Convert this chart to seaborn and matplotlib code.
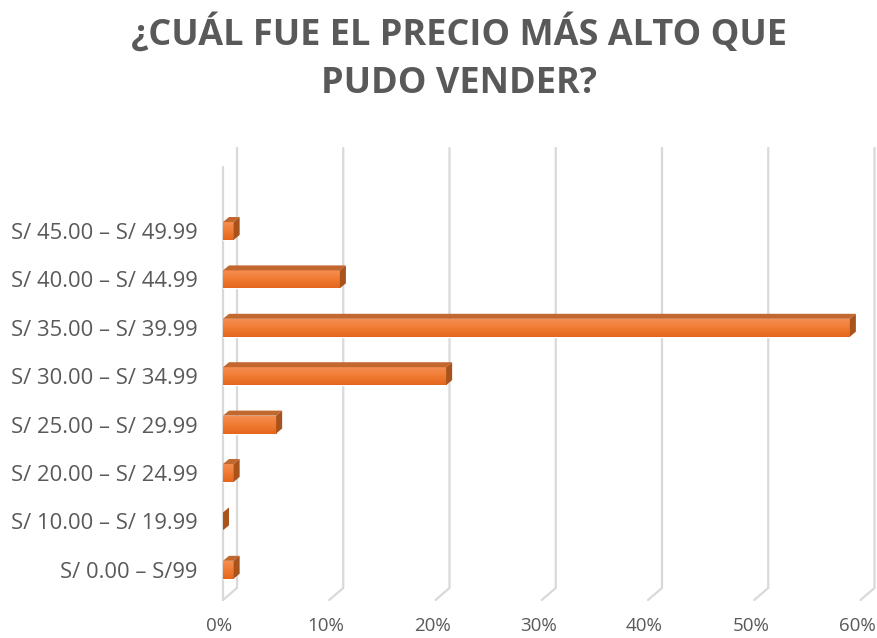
import numpy as np
import pandas as pd
import matplotlib
matplotlib.use('Agg')
import matplotlib.pyplot as plt
import seaborn as sns
from matplotlib.patches import Polygon
from matplotlib.colors import LinearSegmentedColormap
from matplotlib.transforms import ScaledTranslation

# datos
rangos = ['S/ 45.00 – S/ 49.99', 'S/ 40.00 – S/ 44.99', 'S/ 35.00 – S/ 39.99',
          'S/ 30.00 – S/ 34.99', 'S/ 25.00 – S/ 29.99', 'S/ 20.00 – S/ 24.99',
          'S/ 10.00 – S/ 19.99', 'S/ 0.00 – S/99']
porcentajes = [1, 11, 59, 21, 5, 1, 0, 1]
ticks = [0, 10, 20, 30, 40, 50, 60]
tick_labels = ['0%', '10%', '20%', '30%', '40%', '50%', '60%']

sns.set_style('white')
plt.rcParams['font.family'] = ['Open Sans', 'DejaVu Sans']
gris = '#595959'

fig = plt.figure(figsize=(8.77, 6.38), dpi=100)
ax = fig.add_axes([0.2543, 0.0596, 0.739, 0.7085])

df = pd.DataFrame({'rango': rangos, 'pct': porcentajes})
sns.barplot(data=df, x='pct', y='rango', orient='h', color='#EF7A30',
            saturation=1, width=0.37, ax=ax, zorder=3)

ax.set_xlim(0, 61)
ax.set_ylim(7.624, -1.715)
for s in ax.spines.values():
    s.set_visible(False)

fig.canvas.draw()
inv = ax.transData.inverted()


def off(dx, dy):
    # desplazamiento en pixeles -> unidades de datos
    a = inv.transform((0, 0))
    b = inv.transform((dx, dy))
    return b[0] - a[0], b[1] - a[1]


degradado = LinearSegmentedColormap.from_list('naranja', ['#F58E52', '#F07B33', '#E4661C'])
grad = np.linspace(0, 1, 64).reshape(-1, 1)

# profundidad de las barras (efecto 3D)
ddx, ddy = off(6, 5)
for p in list(ax.patches):
    x0, w = p.get_x(), p.get_width()
    yt, yb = p.get_y(), p.get_y() + p.get_height()
    x1 = x0 + w
    if w > 0:
        im = ax.imshow(grad, cmap=degradado, aspect='auto', extent=(x0, x1, yb, yt),
                       zorder=3.5, interpolation='bilinear')
        im.set_clip_path(p)
    top = Polygon([(x0, yt), (x1, yt), (x1 + ddx, yt + ddy), (x0 + ddx, yt + ddy)],
                  closed=True, fc='#C2682F', ec='none', zorder=4)
    side = Polygon([(x1, yt), (x1, yb), (x1 + ddx, yb + ddy), (x1 + ddx, yt + ddy)],
                   closed=True, fc='#A8521C', ec='none', zorder=4)
    ax.add_patch(top)
    ax.add_patch(side)

ax.set_xlim(0, 61)
ax.set_ylim(7.624, -1.715)

# cuadrícula en la pared del fondo
gx, gy = off(14, 12)
y_top = ax.get_ylim()[1]
y_bot = ax.get_ylim()[0]
for t in ticks:
    ax.plot([t + gx, t + gx, t], [y_top, y_bot + gy, y_bot], color='#D9D9D9',
            lw=1.6, zorder=1, clip_on=False, solid_joinstyle='miter')
wx, wy = off(0, -19)
ax.plot([0, 0], [y_top + wy, y_bot], color='#D9D9D9', lw=1.6, zorder=1, clip_on=False)

ax.set_xticks(ticks)
ax.set_xticklabels(tick_labels)
ax.tick_params(axis='x', length=0, pad=12, labelsize=13.5, labelcolor=gris)
ax.tick_params(axis='y', length=0, pad=18.5, labelsize=15.8, labelcolor=gris)
# etiquetas del eje x en el plano frontal (un poco a la izquierda)
for lbl in ax.get_xticklabels():
    lbl.set_transform(lbl.get_transform() + ScaledTranslation(-0.035, 0, fig.dpi_scale_trans))
ax.set_xlabel('')
ax.set_ylabel('')
ax.grid(False)

fig.suptitle('¿CUÁL FUE EL PRECIO MÁS ALTO QUE\nPUDO VENDER?', x=0.523, y=0.978,
             fontsize=26, fontweight='bold', color=gris, linespacing=1.45)

fig.savefig('out.png', dpi=100, facecolor='white')
